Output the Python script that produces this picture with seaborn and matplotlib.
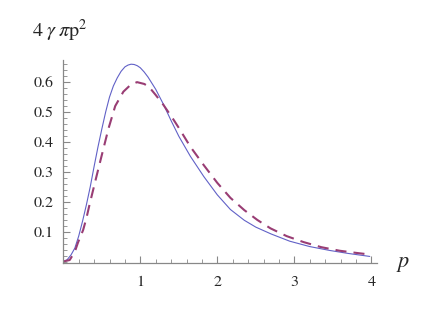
import matplotlib
matplotlib.use("Agg")
import matplotlib.pyplot as plt
from matplotlib.ticker import MultipleLocator
import seaborn as sns
import pandas as pd

# solid curve
p_solid = [0.0, 0.05, 0.1, 0.15, 0.2, 0.25, 0.3, 0.35, 0.4, 0.45, 0.5, 0.55, 0.6, 0.65,
           0.7, 0.75, 0.8, 0.84, 0.88, 0.92, 0.96, 1.0, 1.05, 1.1, 1.2, 1.3, 1.4, 1.5,
           1.65, 1.825, 2.0, 2.17, 2.35, 2.5, 2.7, 2.94, 3.2, 3.46, 3.7, 3.98]
v_solid = [0.0, 0.006, 0.022, 0.045, 0.085, 0.135, 0.19, 0.25, 0.318, 0.383, 0.443,
           0.50, 0.55, 0.587, 0.614, 0.636, 0.651, 0.657, 0.66, 0.659, 0.655, 0.648,
           0.634, 0.617, 0.576, 0.526, 0.471, 0.419, 0.352, 0.284, 0.223, 0.174, 0.138,
           0.115, 0.092, 0.068, 0.05, 0.037, 0.027, 0.017]

# dashed curve
p_dash = [0.0, 0.083, 0.15, 0.19, 0.257, 0.3, 0.343, 0.43, 0.5, 0.587, 0.674, 0.78,
          0.87, 0.957, 1.05, 1.11, 1.2, 1.3, 1.43, 1.5, 1.65, 1.825, 2.0, 2.17, 2.35,
          2.52, 2.69, 2.9, 3.12, 3.35, 3.59, 3.8, 3.96]
v_dash = [0.0, 0.005, 0.033, 0.063, 0.105, 0.145, 0.193, 0.284, 0.356, 0.445, 0.52,
          0.568, 0.59, 0.60, 0.594, 0.585, 0.557, 0.524, 0.475, 0.447, 0.384, 0.322,
          0.263, 0.213, 0.172, 0.139, 0.111, 0.085, 0.065, 0.048, 0.036, 0.029, 0.024]

df_solid = pd.DataFrame({"p": p_solid, "v": v_solid})
df_dash = pd.DataFrame({"p": p_dash, "v": v_dash})

sns.set_style("ticks")
plt.rcParams["font.family"] = ["STIXGeneral", "Liberation Serif", "DejaVu Serif"]
plt.rcParams["mathtext.fontset"] = "stix"

fig = plt.figure(figsize=(4.36, 3.27), dpi=100)
ax = fig.add_axes([0.1452, 0.1966, 0.7188, 0.6199])

sns.lineplot(data=df_solid, x="p", y="v", ax=ax, color=(0.38, 0.38, 0.78),
             linewidth=0.8, sort=False)
sns.lineplot(data=df_dash, x="p", y="v", ax=ax, color=(0.6, 0.24, 0.456),
             linewidth=1.5, sort=False, dashes=False)
ax.lines[-1].set_dashes([5.3, 3.4])

ax.set_xlim(0, 4.07)
ax.set_ylim(-0.004, 0.674)
for s in ["top", "right"]:
    ax.spines[s].set_visible(False)
for s in ["left", "bottom"]:
    ax.spines[s].set_color("#888888")
    ax.spines[s].set_linewidth(0.9)

ax.xaxis.set_minor_locator(MultipleLocator(0.2))
ax.yaxis.set_minor_locator(MultipleLocator(0.02))
ax.set_xticks([1, 2, 3, 4])
ax.set_xticklabels(["1", "2", "3", "4"])
ax.set_yticks([0.1, 0.2, 0.3, 0.4, 0.5, 0.6])
ax.set_yticklabels(["0.1", "0.2", "0.3", "0.4", "0.5", "0.6"])
ax.tick_params(which="major", direction="in", length=5, width=0.8,
               color="#888888", labelsize=11.5)
ax.tick_params(which="minor", direction="in", length=3, width=0.6, color="#888888")
ax.tick_params(axis="x", pad=9)
ax.tick_params(axis="y", pad=7)

ax.set_xlabel("")
ax.set_ylabel("")
fig.text(0.074, 0.887, r"$4\;\gamma\;\pi\mathrm{p}^2$", fontsize=14.5, ha="left",
         va="baseline")
fig.text(0.908, 0.183, r"$p$", fontsize=16, ha="left", va="baseline")

fig.savefig("out.png", dpi=100)
